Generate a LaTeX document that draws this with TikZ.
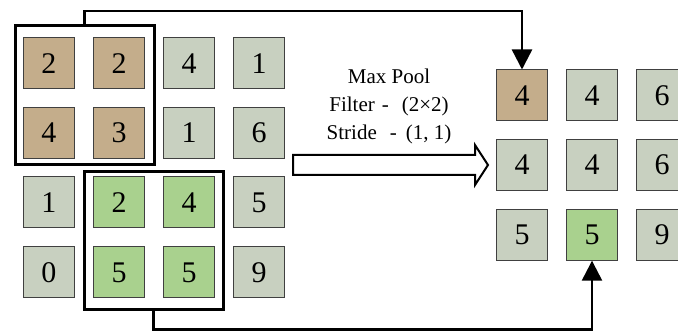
\documentclass[tikz,border=0pt]{standalone}
\usepackage{fontspec}
\setmainfont{Liberation Serif}
\usetikzlibrary{arrows.meta}
\definecolor{tan}{HTML}{C4AD8B}
\definecolor{gcell}{HTML}{C8D0C0}
\definecolor{grn}{HTML}{A9D18E}
\definecolor{cellline}{HTML}{404040}
\tikzset{
  cell/.style={draw=cellline, line width=1pt, minimum width=51pt, minimum height=51pt, inner sep=0pt, fill=gcell, font=\fontsize{30}{32}\selectfont},
  tancell/.style={cell, fill=tan},
  grncell/.style={cell, fill=grn},
  winbox/.style={draw=black, line width=3pt, minimum width=139pt, minimum height=139pt, inner sep=0pt},
  conn/.style={draw=black, line width=2.4pt, -{Triangle[width=20pt,length=20pt]}},
  lbl/.style={font=\fontsize{21}{23}\selectfont, anchor=base, inner sep=0pt}
}
\begin{document}
\begin{tikzpicture}[x=1pt,y=-1pt]
\useasboundingbox (0,0) rectangle (678,331);
\clip (0,0) rectangle (678,331);
% input grid
\node[tancell] (l00) at (49,63.5) {2};
\node[tancell] (l01) at (119,63.5) {2};
\node[cell]    (l02) at (189,63.5) {4};
\node[cell]    (l03) at (259,63.5) {1};
\node[tancell] (l10) at (49,133) {4};
\node[tancell] (l11) at (119,133) {3};
\node[cell]    (l12) at (189,133) {1};
\node[cell]    (l13) at (259,133) {6};
\node[cell]    (l20) at (49,202.5) {1};
\node[grncell] (l21) at (119,202.5) {2};
\node[grncell] (l22) at (189,202.5) {4};
\node[cell]    (l23) at (259,202.5) {5};
\node[cell]    (l30) at (49,272.5) {0};
\node[grncell] (l31) at (119,272.5) {5};
\node[grncell] (l32) at (189,272.5) {5};
\node[cell]    (l33) at (259,272.5) {9};
% windows
\node[winbox] (tb) at (84.5,95.5) {};
\node[winbox, minimum height=138pt] (bb) at (153.5,241) {};
% output grid
\node[tancell] (o00) at (522,95.5) {4};
\node[cell]    (o01) at (592,95.5) {4};
\node[cell]    (o02) at (662,95.5) {6};
\node[cell]    (o10) at (522,165) {4};
\node[cell]    (o11) at (592,165) {4};
\node[cell]    (o12) at (662,165) {6};
\node[cell]    (o20) at (522,234.7) {5};
\node[grncell] (o21) at (592,234.7) {5};
\node[cell]    (o22) at (662,234.7) {9};
% label
\node[lbl] (t1) at (389,83.3) {Max Pool};
\node[lbl] (t2) at (389,111.5) {Filter\hspace{7pt}-\hspace{13pt}(2×2)};
\node[lbl] (t3) at (389,139.3) {Stride\hspace{13pt}-\hspace{9pt}(1, 1)};
% hollow arrow
\draw[line width=2pt, fill=white, line join=miter]
  (293,155) -- (475,155) -- (475,145) -- (488,165) -- (475,185) -- (475,175) -- (293,175) -- cycle;
% connectors
\draw[conn] (tb.north) -- ++(0,-13.5) -| (o00.north);
\draw[conn] (bb.south) -- ++(0,18) -| (o21.south);
\end{tikzpicture}
\end{document}
